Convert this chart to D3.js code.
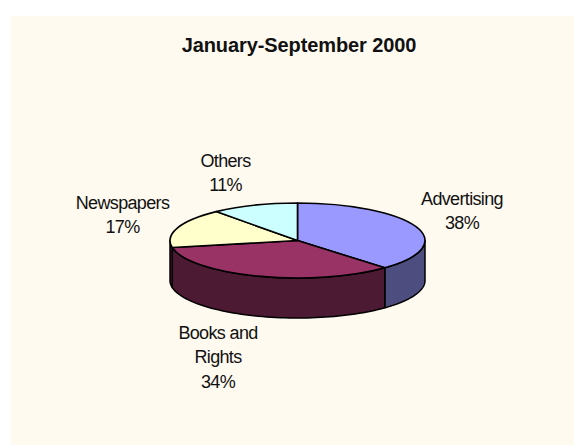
<!DOCTYPE html>
<html><head><meta charset="utf-8">
<script src="https://cdn.jsdelivr.net/npm/d3@7/dist/d3.min.js"></script>
<style>html,body{margin:0;padding:0;background:#fff}svg{display:block}
text{font-family:"Liberation Sans",Arial,sans-serif;fill:#111}</style></head><body>
<script>
const categories = ["Advertising", "Books and Rights", "Newspapers", "Others"];
const values = [38, 34, 17, 11];
const topColors = ["#9999FF", "#993366", "#FFFFCC", "#CCFFFF"];
const sideColors = ["#4D4D80", "#4D1A33", "#4D1A33", "#666680"];
const labelLines = [["Advertising", "38%"], ["Books and", "Rights", "34%"], ["Newspapers", "17%"], ["Others", "11%"]];
const labelAnchors = [[462, 205], [218, 339], [122.5, 209], [225.5, 167]];
const titleText = "January-September 2000";

const W = 574, H = 445, cx = 297.5, cy = 240.5, rx = 127.5, ry = 37.5, depth = 40;
const svg = d3.select("body").append("svg").attr("width", W).attr("height", H);
svg.append("rect").attr("x", 11).attr("y", 16).attr("width", W - 11).attr("height", H - 16).attr("fill", "#FFFAF0");

svg.append("text").attr("x", 299).attr("y", 52).attr("text-anchor", "middle")
  .attr("font-size", 20).attr("font-weight", "bold").attr("letter-spacing", -0.1).text(titleText);

const arcs = d3.pie().sort(null).startAngle(0).endAngle(2 * Math.PI)(values);
const px = a => cx + rx * Math.sin(a), py = a => cy - ry * Math.cos(a);
const lo = Math.PI / 2, hi = 3 * Math.PI / 2;
const angles = a => d3.range(0, 61).map(i => a[0] + (a[1] - a[0]) * i / 60);

const wall = svg.append("g");
arcs.forEach((d, i) => {
  const a0 = Math.max(d.startAngle, lo), a1 = Math.min(d.endAngle, hi);
  if (a1 <= a0) return;
  const t = angles([a0, a1]);
  const p = t.map(a => [px(a), py(a)]).concat(t.slice().reverse().map(a => [px(a), py(a) + depth]));
  wall.append("path").attr("d", d3.line()(p) + "Z").attr("fill", sideColors[i])
    .attr("stroke", "#000").attr("stroke-width", 1.5).attr("stroke-linejoin", "round");
});

const arcGen = d3.arc().innerRadius(0).outerRadius(rx);
const topFace = svg.append("g").attr("transform", `translate(${cx},${cy}) scale(1,${ry / rx})`);
topFace.selectAll("path").data(arcs).join("path").attr("d", arcGen)
  .attr("fill", (d, i) => topColors[i]).attr("stroke", "#000").attr("stroke-width", 1.6)
  .attr("vector-effect", "non-scaling-stroke").attr("stroke-linejoin", "round");

labelLines.forEach((lines, i) => {
  const t = svg.append("text").attr("text-anchor", "middle").attr("font-size", 18).attr("letter-spacing", -0.65);
  lines.forEach((s, j) => t.append("tspan").attr("x", labelAnchors[i][0]).attr("y", labelAnchors[i][1] + j * 24.3).text(s));
});
</script></body></html>
